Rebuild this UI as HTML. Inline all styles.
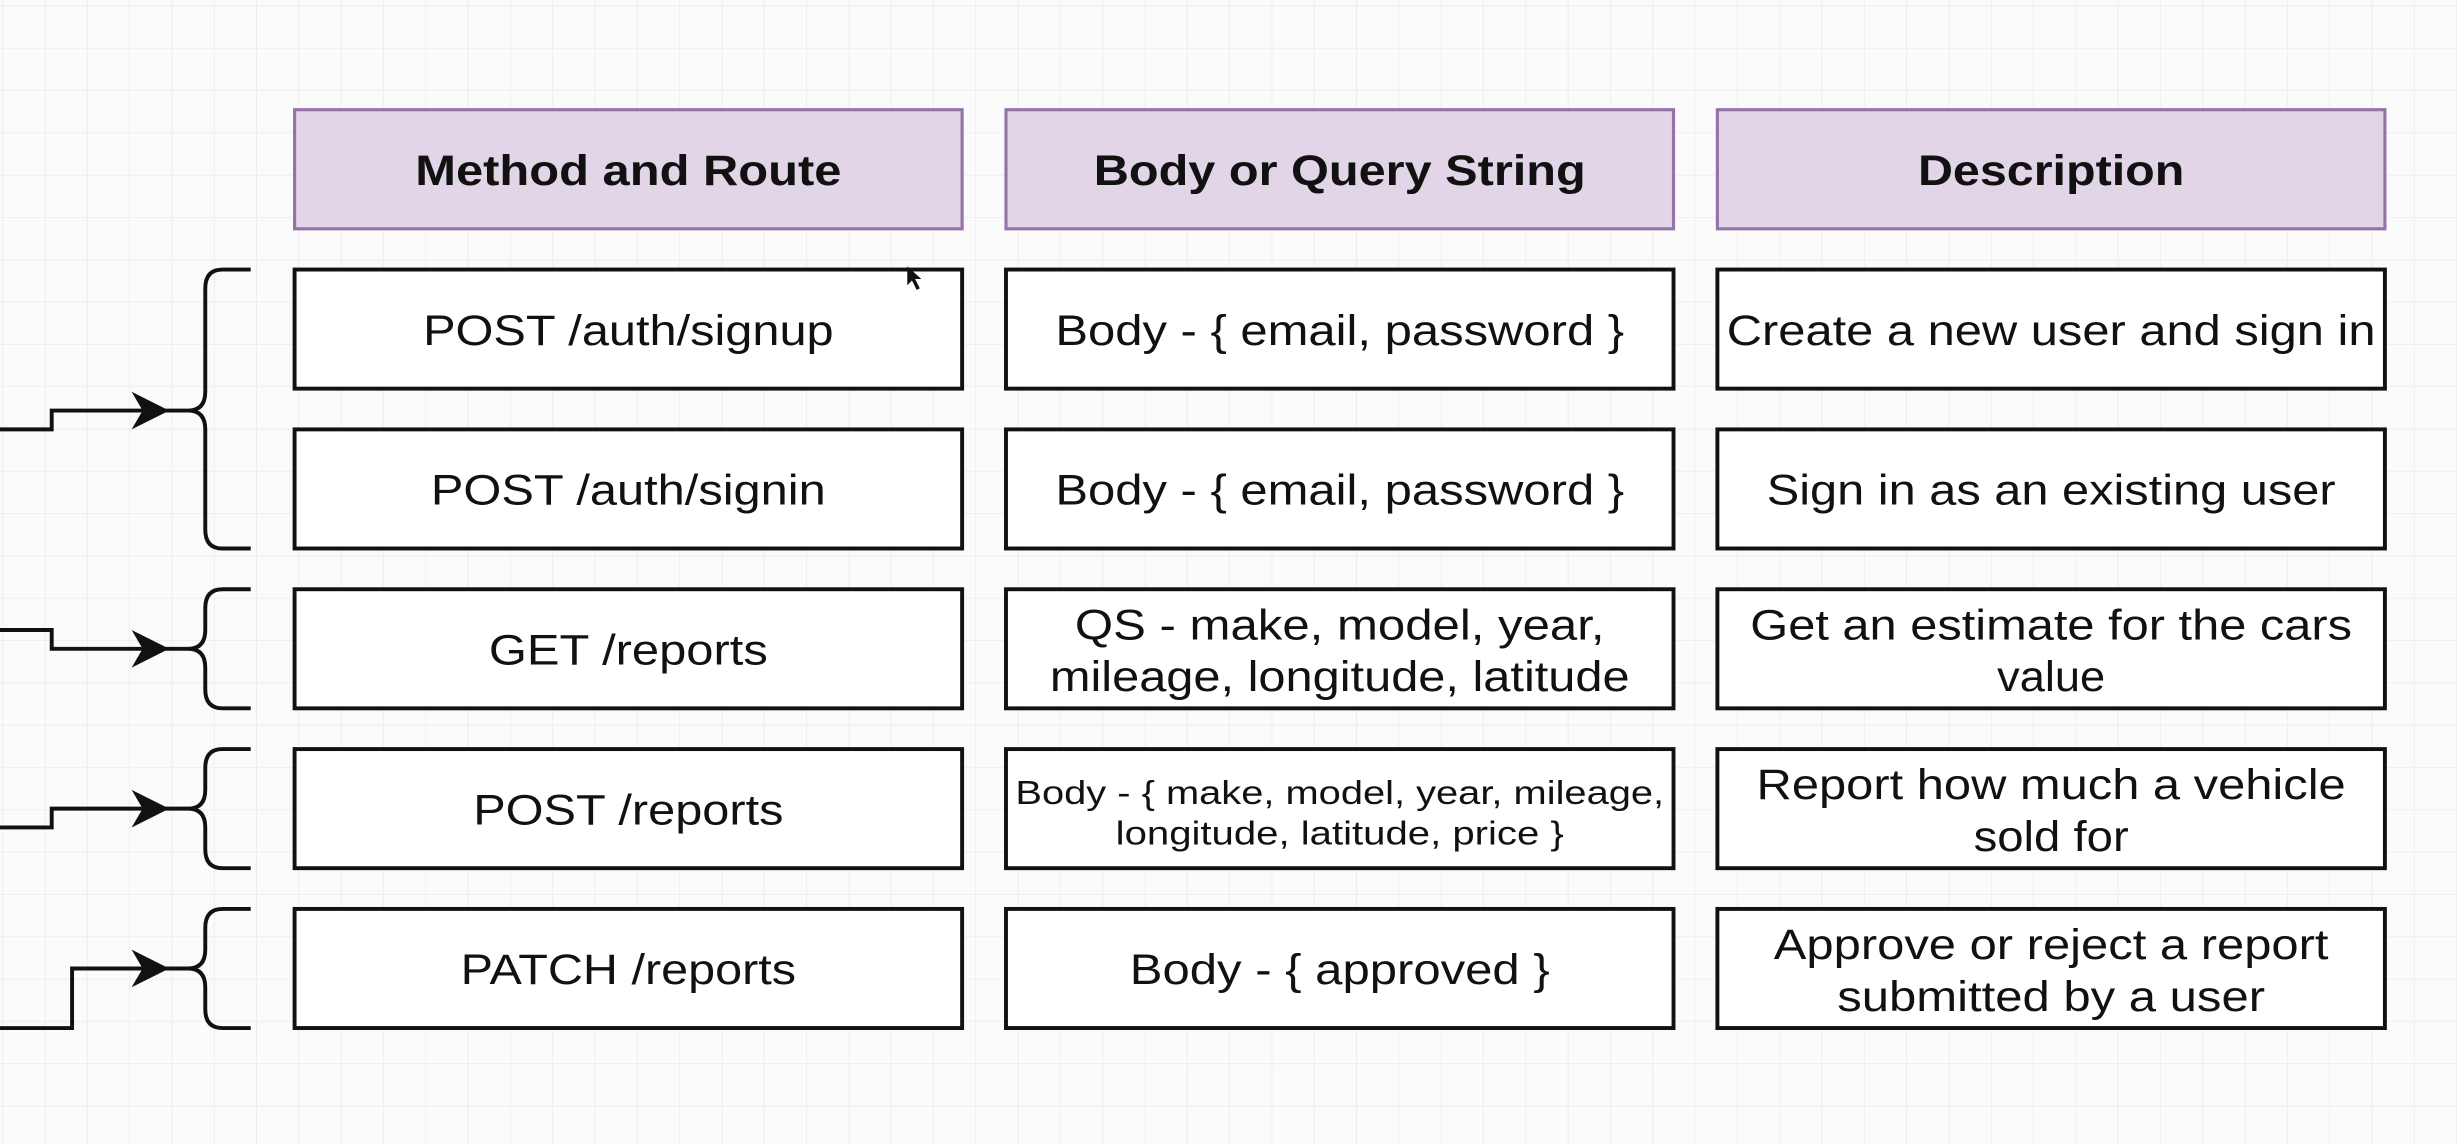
<!DOCTYPE html>
<html><head><meta charset="utf-8"><style>
html,body{margin:0;padding:0;background:#fbfbfb;}
svg{display:block}
text{font-family:"Liberation Sans",Arial,sans-serif;fill:#111;}
</style></head><body>
<svg width="2457" height="1144" viewBox="0 0 1568 730" preserveAspectRatio="none" xmlns="http://www.w3.org/2000/svg">
<defs>
<pattern id="g" width="27" height="27" patternUnits="userSpaceOnUse" x="2" y="4">
<path d="M27 0V27M0 27H27" fill="none" stroke="#ebebeb" stroke-width="1"/>
</pattern>
</defs>
<rect width="1568" height="730" fill="#fbfbfb"/>
<rect width="1568" height="730" fill="url(#g)"/>

<g fill="#e1d5e7" stroke="#9673a6" stroke-width="2">
<rect x="188" y="70" width="426" height="76"/>
<rect x="642" y="70" width="426" height="76"/>
<rect x="1096" y="70" width="426" height="76"/>
</g>
<g font-weight="bold" font-size="27" text-anchor="middle" lengthAdjust="spacingAndGlyphs">
<text x="401" y="118" textLength="272" lengthAdjust="spacingAndGlyphs">Method and Route</text>
<text x="855" y="118" textLength="314" lengthAdjust="spacingAndGlyphs">Body or Query String</text>
<text x="1309" y="118" textLength="170" lengthAdjust="spacingAndGlyphs">Description</text>
</g>

<g fill="#fff" stroke="#111" stroke-width="2.5">
<rect x="188" y="172" width="426" height="76"/><rect x="642" y="172" width="426" height="76"/><rect x="1096" y="172" width="426" height="76"/>
<rect x="188" y="274" width="426" height="76"/><rect x="642" y="274" width="426" height="76"/><rect x="1096" y="274" width="426" height="76"/>
<rect x="188" y="376" width="426" height="76"/><rect x="642" y="376" width="426" height="76"/><rect x="1096" y="376" width="426" height="76"/>
<rect x="188" y="478" width="426" height="76"/><rect x="642" y="478" width="426" height="76"/><rect x="1096" y="478" width="426" height="76"/>
<rect x="188" y="580" width="426" height="76"/><rect x="642" y="580" width="426" height="76"/><rect x="1096" y="580" width="426" height="76"/>
</g>

<g font-size="27" text-anchor="middle">
<text x="401" y="220" textLength="262" lengthAdjust="spacingAndGlyphs">POST /auth/signup</text>
<text x="855" y="220" textLength="363" lengthAdjust="spacingAndGlyphs">Body - { email, password }</text>
<text x="1309" y="220" textLength="414" lengthAdjust="spacingAndGlyphs">Create a new user and sign in</text>
<text x="401" y="322" textLength="252" lengthAdjust="spacingAndGlyphs">POST /auth/signin</text>
<text x="855" y="322" textLength="363" lengthAdjust="spacingAndGlyphs">Body - { email, password }</text>
<text x="1309" y="322" textLength="363" lengthAdjust="spacingAndGlyphs">Sign in as an existing user</text>
<text x="401" y="424" textLength="178" lengthAdjust="spacingAndGlyphs">GET /reports</text>
<text x="855" y="408" textLength="338" lengthAdjust="spacingAndGlyphs">QS - make, model, year,</text>
<text x="855" y="441" textLength="370" lengthAdjust="spacingAndGlyphs">mileage, longitude, latitude</text>
<text x="1309" y="408" textLength="384" lengthAdjust="spacingAndGlyphs">Get an estimate for the cars</text>
<text x="1309" y="441" textLength="69" lengthAdjust="spacingAndGlyphs">value</text>
<text x="401" y="526" textLength="198" lengthAdjust="spacingAndGlyphs">POST /reports</text>
<text x="855" y="513" font-size="21" textLength="414" lengthAdjust="spacingAndGlyphs">Body - { make, model, year, mileage,</text>
<text x="855" y="539" font-size="21" textLength="286" lengthAdjust="spacingAndGlyphs">longitude, latitude, price }</text>
<text x="1309" y="510" textLength="376" lengthAdjust="spacingAndGlyphs">Report how much a vehicle</text>
<text x="1309" y="543" textLength="99" lengthAdjust="spacingAndGlyphs">sold for</text>
<text x="401" y="628" textLength="214" lengthAdjust="spacingAndGlyphs">PATCH /reports</text>
<text x="855" y="628" textLength="268" lengthAdjust="spacingAndGlyphs">Body - { approved }</text>
<text x="1309" y="612" textLength="354" lengthAdjust="spacingAndGlyphs">Approve or reject a report</text>
<text x="1309" y="645" textLength="273" lengthAdjust="spacingAndGlyphs">submitted by a user</text>
</g>

<g fill="none" stroke="#111" stroke-width="2.5">
<path d="M160 172H142Q131 172 131 184V250Q131 262 120 262H100M120 262Q131 262 131 274V338Q131 350 142 350H160"/>
<path d="M160 376H142Q131 376 131 388V402Q131 414 120 414H100M120 414Q131 414 131 426V440Q131 452 142 452H160"/>
<path d="M160 478H142Q131 478 131 490V504Q131 516 120 516H100M120 516Q131 516 131 528V542Q131 554 142 554H160"/>
<path d="M160 580H142Q131 580 131 592V606Q131 618 120 618H100M120 618Q131 618 131 630V644Q131 656 142 656H160"/>
<path d="M0 274H33V262H95"/>
<path d="M0 402H33V414H95"/>
<path d="M0 528H33V516H95"/>
<path d="M0 656H46V618H95"/>
</g>
<g fill="#111">
<path d="M108 262L84 250L91 262L84 274Z"/>
<path d="M108 414L84 402L91 414L84 426Z"/>
<path d="M108 516L84 504L91 516L84 528Z"/>
<path d="M108 618L84 606L91 618L84 630Z"/>
</g>
<path d="M579 170L579 182L582 179L585 185L587 184L584 178L588 178Z" fill="#111"/>
</svg>
</body></html>
